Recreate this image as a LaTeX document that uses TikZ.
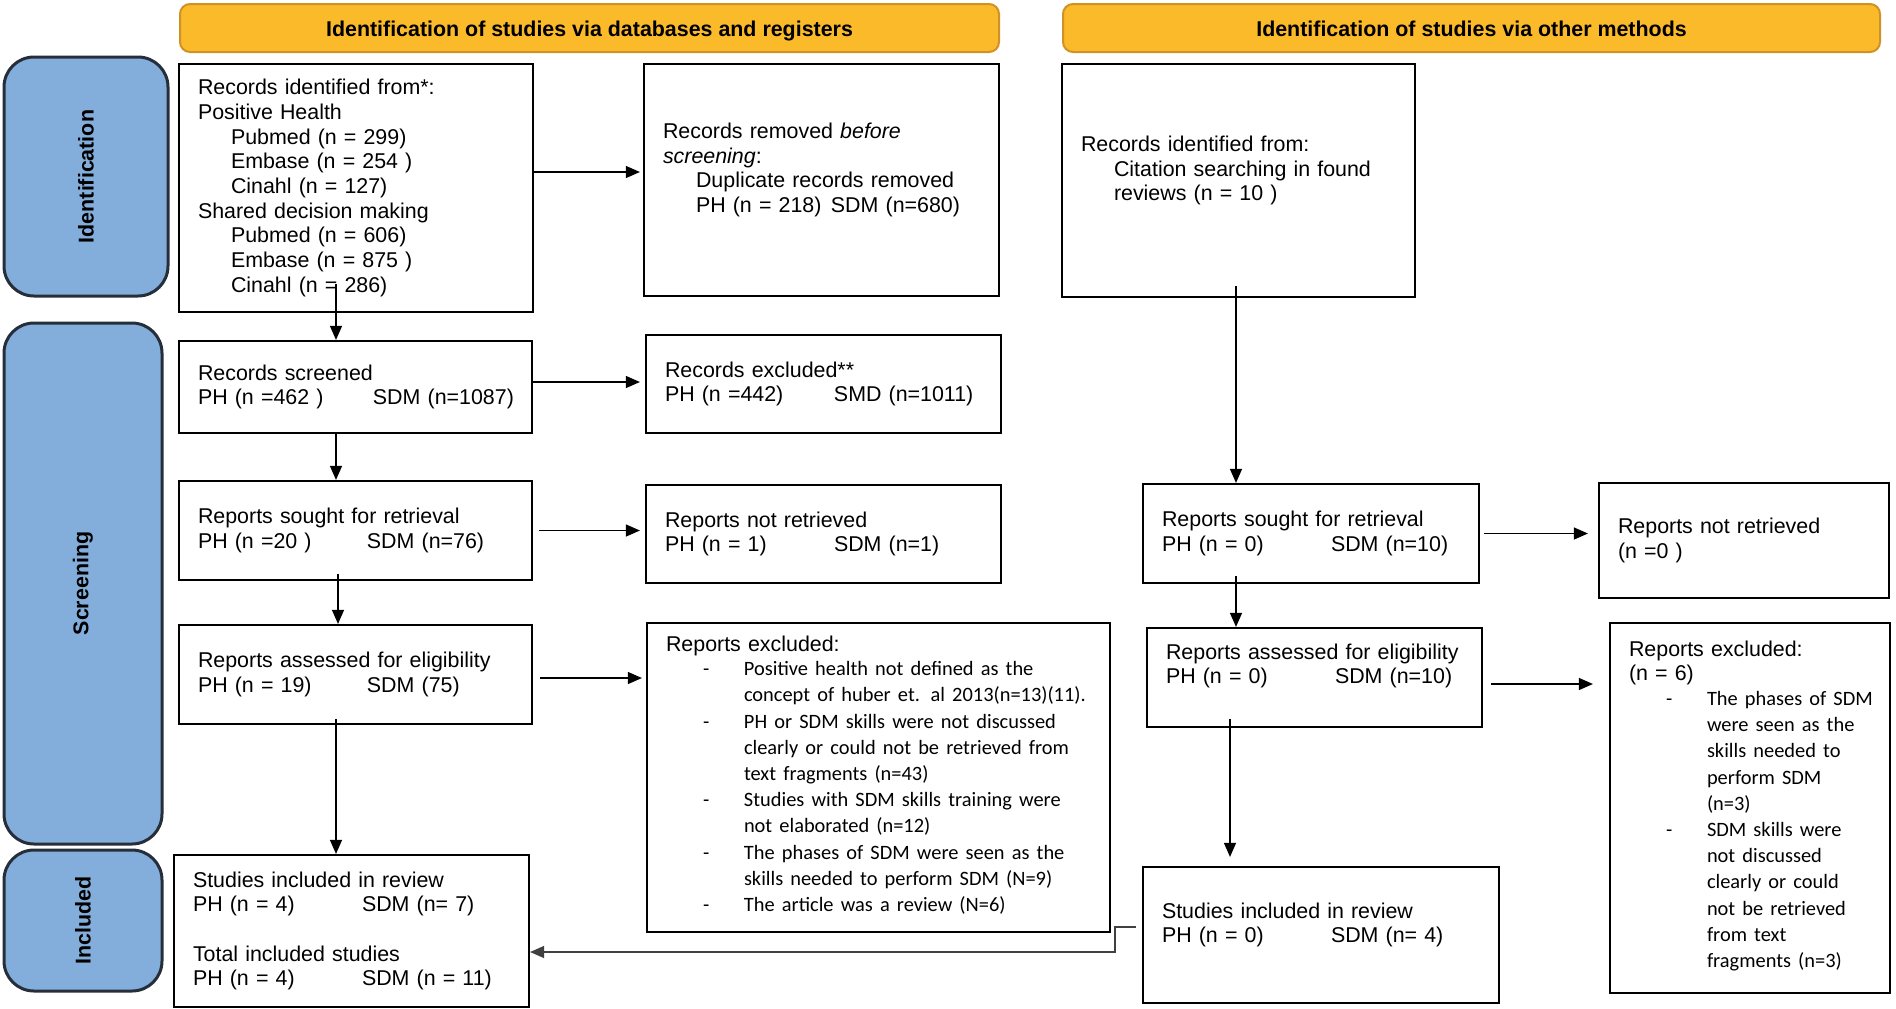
\documentclass[tikz,border=0pt]{standalone}
\usepackage{fontspec}
\setmainfont{Liberation Sans}
\newfontfamily\calfont{Carlito}
\usetikzlibrary{arrows.meta}
\definecolor{hdrfill}{RGB}{251,186,41}
\definecolor{hdrline}{RGB}{208,146,38}
\definecolor{phasefill}{RGB}{131,174,219}
\definecolor{phaseline}{RGB}{38,46,58}
\newcommand{\bodyfont}{\fontsize{10.7}{12.35}\selectfont}
\newcommand{\ind}{\hspace*{16.5pt}}
\newcommand{\pair}[3][84.5pt]{\mbox{\makebox[#1][l]{#2}#3}}
\newenvironment{dashlist}{\calfont\fontsize{10.2}{13.1}\selectfont
  \begin{tabular}[t]{@{\hspace{18.5pt}}p{20.5pt}@{}l@{}}}{\end{tabular}}
\tikzset{
  header/.style={draw=hdrline, line width=1pt, fill=hdrfill, rounded corners=5pt,
                 font=\bodyfont\bfseries, minimum height=24pt, text height=8pt, text depth=0pt},
  phase/.style={draw=phaseline, line width=1.5pt, fill=phasefill, rounded corners=15pt,
                font=\bodyfont\bfseries},
  box/.style={draw, line width=1.1pt, inner xsep=9.5pt, inner ysep=2pt, align=left,
              font=\bodyfont},
  flow/.style={line width=0.6pt, -{Triangle[length=7pt,width=6pt]}}
}

\begin{document}
\begin{tikzpicture}[x=0.5pt, y=-0.5pt]
    \useasboundingbox (0,0) rectangle (1896,1008);

    % headers and phases
    \node[header, minimum width=409.5pt] (dbhead) at (589.5,28) {Identification of studies via databases and registers};
    \node[header, minimum width=408.5pt] (othead) at (1471.5,28) {Identification of studies via other methods};

    \node[phase, minimum width=82pt, minimum height=119.5pt] (idphase) at (86,176.5) {\rotatebox{90}{Identification}};
    \node[phase, minimum width=79pt, minimum height=260.5pt] (scphase) at (83,583.5) {\rotatebox{90}{Screening}};
    \node[phase, minimum width=79pt, minimum height=70.5pt] (inphase) at (83,920.5) {\rotatebox{90}{Included}};

    % databases and registers
    \node[box, text width=158pt, minimum height=124pt] (ident) at (356,188) {Records identified from*:\\
      Positive Health\\ \ind Pubmed (n = 299)\\ \ind Embase (n = 254 )\\ \ind Cinahl (n = 127)\\
      Shared decision making\\ \ind Pubmed (n = 606)\\ \ind Embase (n = 875 )\\ \ind Cinahl (n = 286)};
    \node[box, text width=158.5pt, minimum height=116pt] (removed) at (821.5,180) {Records removed \textit{before}\\
      \textit{screening}:\\ \ind Duplicate records removed\\ \ind \pair[67.5pt]{PH (n = 218)}{SDM (n=680)}\par\kern10pt};
    \node[box, text width=157.5pt, minimum height=46pt] (screened) at (355.5,387) {Records screened\\
      \pair[87.5pt]{PH (n =462 )}{SDM (n=1087)}};
    \node[box, text width=158.5pt, minimum height=49pt] (excl) at (823.5,384) {Records excluded**\\
      \pair{PH (n =442)}{SMD (n=1011)}};
    \node[box, text width=157.5pt, minimum height=49.5pt] (soughtL) at (355.5,530.5) {Reports sought for retrieval\\
      \pair{PH (n =20 )}{SDM (n=76)}};
    \node[box, text width=158.5pt, minimum height=49pt] (notretL) at (823.5,534) {Reports not retrieved\\
      \pair{PH (n = 1)}{SDM (n=1)}};
    \node[box, text width=157.5pt, minimum height=49.5pt] (assessL) at (355.5,674.5) {Reports assessed for eligibility\\
      \pair{PH (n = 19)}{SDM (75)}};
    \node[box, text width=212.5pt, minimum height=154.5pt] (exclM) at (878.5,777.5) {Reports excluded:\\
      \begin{dashlist}
        - & Positive health not defined as the\\
          & concept of huber et. al 2013(n=13)(11).\\
        - & PH or SDM skills were not discussed\\
          & clearly or could not be retrieved from\\
          & text fragments (n=43)\\
        - & Studies with SDM skills training were\\
          & not elaborated (n=12)\\
        - & The phases of SDM were seen as the\\
          & skills needed to perform SDM (N=9)\\
        - & The article was a review (N=6)
      \end{dashlist}};
    \node[box, text width=158.5pt, minimum height=76pt] (inclL) at (351.5,931) {Studies included in review\\
      \pair{PH (n = 4)}{SDM (n= 7)}\\[12.35pt]
      Total included studies\\
      \pair{PH (n = 4)}{SDM (n = 11)}};

    % other methods
    \node[box, text width=157.5pt, minimum height=116.5pt] (other) at (1238.5,180.5) {Records identified from:\\
      \ind Citation searching in found\\ \ind reviews (n = 10 )\par\kern10pt};
    \node[box, text width=149pt, minimum height=49.5pt] (soughtR) at (1311,533.5) {Reports sought for retrieval\\
      \pair{PH (n = 0)}{SDM (n=10)}};
    \node[box, text width=126pt, minimum height=57.5pt] (notretR) at (1744,540.5) {Reports not retrieved\\ (n =0 )};
    \node[box, text width=148.5pt, minimum height=49.5pt] (assessR) at (1314.5,677.5) {Reports assessed for eligibility\\
      \pair{PH (n = 0)}{SDM (n=10)}\par\kern11.5pt};
    \node[box, text width=121pt, minimum height=185pt] (exclR) at (1750,808) {Reports excluded:\\ (n = 6)\\
      \begin{dashlist}
        - & The phases of SDM\\
          & were seen as the\\
          & skills needed to\\
          & perform SDM\\
          & (n=3)\\
        - & SDM skills were\\
          & not discussed\\
          & clearly or could\\
          & not be retrieved\\
          & from text\\
          & fragments (n=3)
      \end{dashlist}};
    \node[box, text width=159pt, minimum height=68pt] (inclR) at (1321,935) {Studies included in review\\
      \pair{PH (n = 0)}{SDM (n= 4)}\par\kern10pt};

    % connectors
    \draw[flow, shorten >=1.5pt] ([yshift=8pt]ident.east) -- ([yshift=8pt]ident.east -| removed.west);
    \draw[flow] ([xshift=-10pt,yshift=14.5pt]ident.south) -- ([xshift=-10pt]ident.south |- screened.north);
    \draw[flow, shorten >=2.5pt] ([yshift=2.5pt]screened.east) -- ([yshift=2.5pt]screened.east -| excl.west);
    \draw[flow] ([xshift=-9.75pt]screened.south) -- ([xshift=-9.75pt]screened.south |- soughtL.north);
    \draw[flow, shorten >=2.5pt] ([xshift=3pt]soughtL.east) -- (soughtL.east -| notretL.west);
    \draw[flow] ([xshift=-8.75pt,yshift=3.5pt]soughtL.south) -- ([xshift=-8.75pt]soughtL.south |- assessL.north);
    \draw[flow, shorten >=2pt] ([xshift=3.5pt,yshift=-1.75pt]assessL.east) -- ([yshift=-1.75pt]assessL.east -| exclM.west);
    \draw[flow] ([xshift=-9.75pt,yshift=3pt]assessL.south) -- ([xshift=-9.75pt]assessL.south |- inclL.north);

    \draw[flow] ([xshift=-1.25pt,yshift=6pt]other.south) -- ([xshift=-1.25pt]other.south |- soughtR.north);
    \draw[flow, shorten >=5pt] ([xshift=2pt]soughtR.east) -- (soughtR.east -| notretR.west);
    \draw[flow] ([xshift=-37.5pt,yshift=4pt]soughtR.south) -- ([xshift=-37.5pt]soughtR.south |- assessR.north);
    \draw[flow, shorten >=8pt] ([xshift=4pt,yshift=-3.25pt]assessR.east) -- ([yshift=-3.25pt]assessR.east -| exclR.west);
    \draw[flow, shorten >=4.5pt] ([xshift=-42.25pt,yshift=4.5pt]assessR.south) -- ([xshift=-42.25pt]assessR.south |- inclR.north);
    \draw[flow, draw=black!75] ([xshift=-3pt,yshift=4pt]inclR.west) -- ++(-10.5pt,0) |- ([yshift=-10.5pt]inclL.east);
\end{tikzpicture}
\end{document}
